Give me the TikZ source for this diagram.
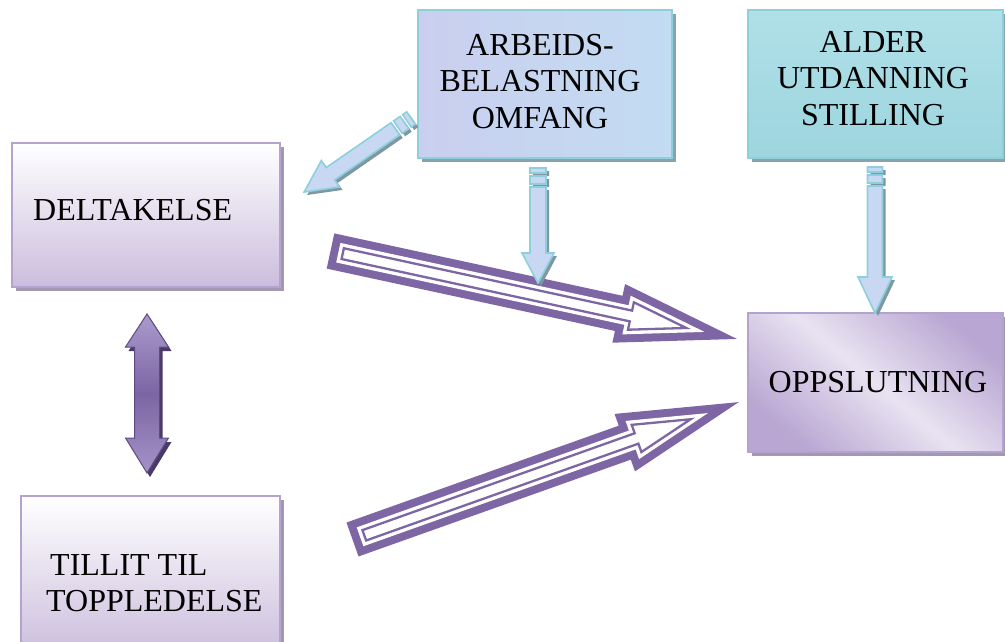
\documentclass[tikz,border=0pt]{standalone}
\usepackage{fontspec}
\setmainfont{Liberation Serif}
\usetikzlibrary{calc}
\definecolor{pu}{HTML}{7E65A3}
\definecolor{pboxline}{HTML}{B3A3CE}
\definecolor{pboxshadow}{HTML}{A497B3}
\definecolor{pboxlow}{HTML}{CBBDDD}
\definecolor{oppdark}{HTML}{B9A6D2}
\definecolor{opplight}{HTML}{E8E3F1}
\definecolor{tealline}{HTML}{8DD0DC}
\definecolor{tealshadow}{HTML}{88A3AC}
\definecolor{arbfillA}{HTML}{CACFEF}
\definecolor{arbfillB}{HTML}{C2DCF2}
\definecolor{aldfillA}{HTML}{B0E0E8}
\definecolor{aldfillB}{HTML}{9DD5DF}
\definecolor{lbfill}{HTML}{C8D8F2}
\definecolor{lbshadow}{HTML}{7D98A3}
\definecolor{dapTop}{HTML}{AA9BCC}
\definecolor{dapMid}{HTML}{7D65A4}
\definecolor{dapBot}{HTML}{A393C7}
\definecolor{dapLine}{HTML}{5E4A85}
\definecolor{dapShadow}{HTML}{4A3A68}

% polygon of a block arrow (tail at x=0, tip at x=L), inset by d
\newcommand\bapath[5]{%
 \pgfmathsetmacro\bsa{sin(atan(#3/#4))}%
 \pgfmathsetmacro\bca{cos(atan(#3/#4))}%
 \pgfmathsetmacro\bw{#2-#5}%
 \pgfmathsetmacro\btip{#1-#5/\bsa}%
 \pgfmathsetmacro\bbx{#1-#4+#5}%
 \pgfmathsetmacro\bby{#3*(#4-#5)/#4-#5/\bca}%
 \pgfmathsetmacro\btail{#5}%
 \def\bpoly{(\btail,\bw) -- (\bbx,\bw) -- (\bbx,\bby) -- (\btip,0) -- (\bbx,-\bby) -- (\bbx,-\bw) -- (\btail,-\bw) -- cycle}%
}
% hollow purple arrow: tail x, tail y, angle, length, shaft half width, head half width
\newcommand\hollowarrow[6]{%
 \begin{scope}[shift={(#1,#2)},rotate=#3]
  \bapath{#4}{#5}{#6}{121}{0}
  \fill[pu] \bpoly;
  \bapath{#4}{#5}{#6}{121}{8}
  \fill[white] \bpoly;
  \bapath{#4}{#5}{#6}{121}{12.5}
  \draw[pu,line width=2.3,line join=miter] \bpoly;
 \end{scope}}
% light blue striped arrow: tail x, tail y, angle, length, shaft half width, head half width, head length
\newcommand\stripearrow[7]{%
 \begin{scope}[shift={({#1+3},{#2+3})},rotate=#3]
  \fill[lbshadow] (0,-#5) rectangle (5,#5) (8,-#5) rectangle (16,#5)
   (19,#5) -- ({#4-#7},#5) -- ({#4-#7},#6) -- (#4,0) -- ({#4-#7},-#6) -- ({#4-#7},-#5) -- (19,-#5) -- cycle;
 \end{scope}
 \begin{scope}[shift={(#1,#2)},rotate=#3]
  \filldraw[fill=lbfill,draw=tealline,line width=1.6] (0,-#5) rectangle (5,#5) (8,-#5) rectangle (16,#5)
   (19,#5) -- ({#4-#7},#5) -- ({#4-#7},#6) -- (#4,0) -- ({#4-#7},-#6) -- ({#4-#7},-#5) -- (19,-#5) -- cycle;
 \end{scope}}

\begin{document}
\begin{tikzpicture}[x=1pt,y=-1pt,
  font=\fontsize{32}{36.5}\selectfont,
  pshadow/.style={preaction={fill=#1,transform canvas={xshift=4pt,yshift=-4pt}}},
  pbox/.style={draw=pboxline,line width=2,top color=white,bottom color=pboxlow,
    pshadow=pboxshadow,inner sep=0},
  bbox/.style={draw=tealline,line width=2,pshadow=tealshadow,inner sep=0},
  lbl/.style={inner sep=0,align=center,anchor=north}]
\useasboundingbox (0,0) rectangle (1005,642);

% boxes
\node[pbox,minimum width=268,minimum height=144] (delt) at (146,215) {};
\node[pbox,minimum width=259,minimum height=160] (tillit) at (150.5,576) {};
\node[bbox,left color=arbfillA,right color=arbfillB,minimum width=254,minimum height=148] (arb) at (545,84) {};
\node[bbox,top color=aldfillA,bottom color=aldfillB,minimum width=255,minimum height=148] (ald) at (875.5,84) {};
\node[draw=pboxline,line width=2,pshadow=pboxshadow,inner sep=0,
  top color=oppdark,bottom color=oppdark,middle color=opplight,shading angle=-40,
  minimum width=255,minimum height=139] (opp) at (875.5,382.5) {};

% texts
\node[inner sep=0,anchor=base west] (tdelt) at (33,220) {DELTAKELSE};
\node[inner sep=0,anchor=base west] (ttil1) at (50,575) {TILLIT TIL};
\node[inner sep=0,anchor=base west] (ttil2) at (46,611) {TOPPLEDELSE};
\node[lbl] (tarb) at (540,34) {ARBEIDS-\\BELASTNING\\OMFANG};
\node[lbl] (tald) at (873,31) {ALDER\\UTDANNING\\STILLING};
\node[inner sep=0,anchor=base] (topp) at (878,392) {OPPSLUTNING};

% hollow arrows
\hollowarrow{330.5}{251}{-12.21}{415.9}{18}{30}
\hollowarrow{352.5}{539.5}{19.58}{410}{18}{30.5}

% light blue striped arrows
\stripearrow{411}{118}{-145.3}{130}{7.5}{16}{32}
\stripearrow{538}{168}{-90}{115}{8}{16}{30}
\stripearrow{875}{167}{-90}{146}{7.5}{17}{36}

% double arrow
\fill[dapShadow,shift={(3,4)}] (147,314) -- (168.5,347) -- (159.5,347) -- (159.5,438) -- (168.5,438) -- (147,473)
  -- (125.5,438) -- (134.5,438) -- (134.5,347) -- (125.5,347) -- cycle;
\shade[top color=dapTop,bottom color=dapBot,middle color=dapMid,draw=dapLine,line width=1]
  (147,314) -- (168.5,347) -- (159.5,347) -- (159.5,438) -- (168.5,438) -- (147,473)
  -- (125.5,438) -- (134.5,438) -- (134.5,347) -- (125.5,347) -- cycle;
\end{tikzpicture}
\end{document}
